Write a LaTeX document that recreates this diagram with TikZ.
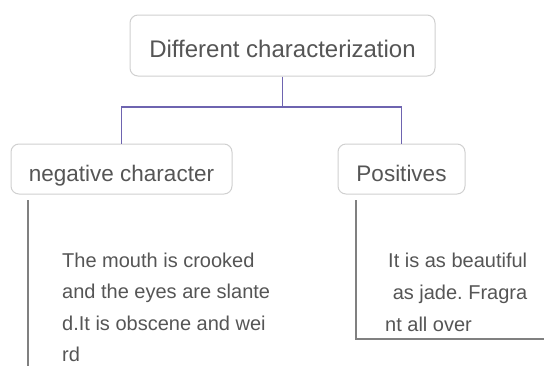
\documentclass[tikz,border=0pt]{standalone}
\usepackage{fontspec}
\setmainfont{Liberation Sans}
\definecolor{boxline}{HTML}{D0D0D0}
\definecolor{txt}{HTML}{555555}
\definecolor{purp}{HTML}{6E64B0}
\definecolor{stem}{HTML}{808080}
\begin{document}
\begin{tikzpicture}[x=1pt,y=-1pt,
  topic/.style={draw=boxline,line width=1pt,rounded corners=8pt,fill=white,text=txt,inner sep=0pt,text depth=0pt},
  body/.style={anchor=base west,inner sep=0pt,text=txt,font=\fontsize{20}{24}\selectfont\frenchspacing},
  link/.style={draw=purp,line width=1.4pt},
  stemline/.style={draw=stem,line width=1.6pt}]
\useasboundingbox (0,0) rectangle (544,365);
\node[topic,minimum width=305pt,minimum height=61pt,text height=24.4pt,font=\fontsize{24}{28}\selectfont] (top) at (282.5,45.5) {Different characterization};
\node[topic,minimum width=221pt,minimum height=50pt,text height=25.4pt,font=\fontsize{22.5}{26}\selectfont] (neg) at (121.5,169) {negative character};
\node[topic,minimum width=127pt,minimum height=50pt,text height=25.4pt,font=\fontsize{22.5}{26}\selectfont] (pos) at (401.5,169) {Positives};
\coordinate (j) at (282.5,107);
\draw[link] (top.south) -- (j);
\draw[link] (neg.north) |- (j) -| (pos.north);
\coordinate (nl1) at (28,200);
\coordinate (nl2) at (28,366);
\draw[stemline] (nl1) -- (nl2);
\coordinate (pl1) at (356,200);
\coordinate (pl2) at (356,339);
\coordinate (pl3) at (545,339);
\draw[stemline] (pl1) -- (pl2) -- (pl3);
\node[body] (n1) at (62,267) {The mouth is crooked};
\node[body] (n2) at (62,298.5) {and the eyes are slante};
\node[body] (n3) at (62,330) {d.It is obscene and wei};
\node[body] (n4) at (62,361.5) {rd};
\node[body] (p1) at (388,267) {It is as beautiful};
\node[body] (p2) at (387,299) {\mbox{} as jade. Fragra};
\node[body] (p3) at (385,331) {nt all over};
\end{tikzpicture}
\end{document}
